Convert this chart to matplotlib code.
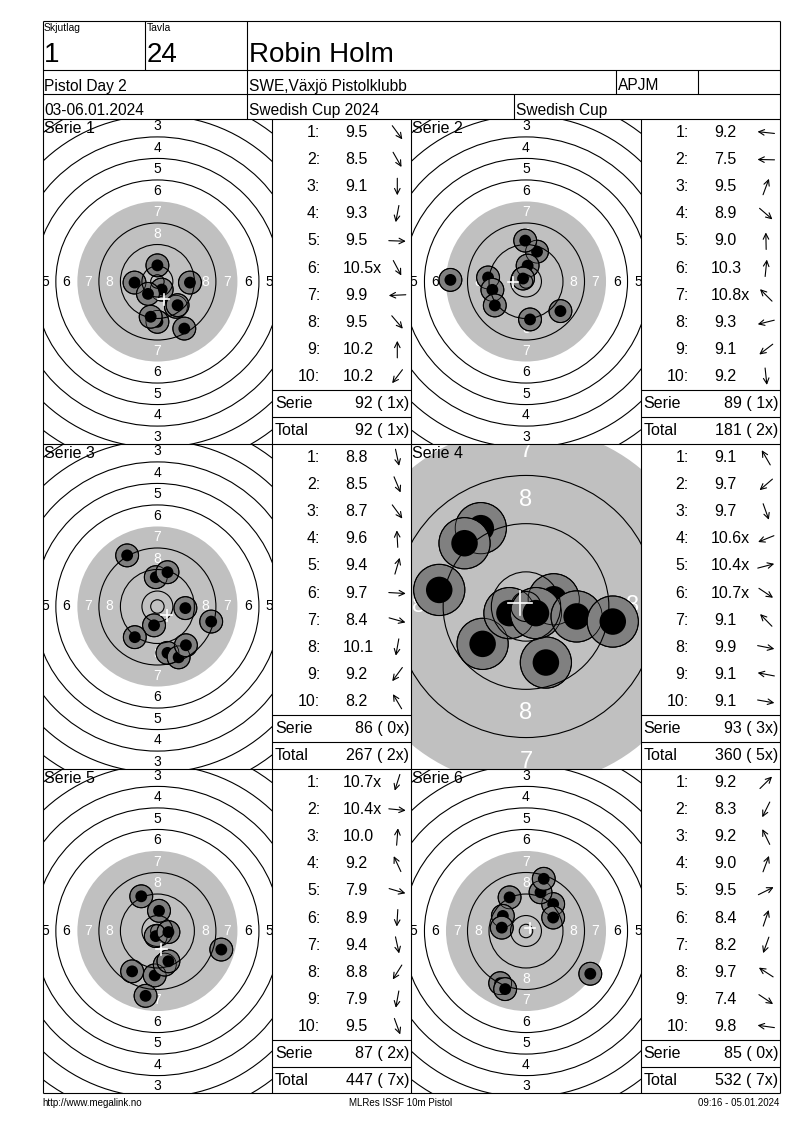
import numpy as np
import matplotlib.pyplot as plt
from matplotlib.patches import Circle

plt.rcParams['font.family'] = ['Liberation Sans', 'DejaVu Sans']

W, H = 800, 1130

# header / footer texts
squad = "1"
lane = "24"
shooter = "Robin Holm"
event = "Pistol Day 2"
club = "SWE,Växjö Pistolklubb"
shooter_class = "APJM"
dates = "03-06.01.2024"
competition = "Swedish Cup 2024"
cup = "Swedish Cup"
footer_left = "http://www.megalink.no"
footer_mid = "MLRes ISSF 10m Pistol"
footer_right = "09:16 - 05.01.2024"

series_names = ["Serie 1", "Serie 2", "Serie 3", "Serie 4", "Serie 5", "Serie 6"]

# shot values as printed
scores_1 = ["9.5", "8.5", "9.1", "9.3", "9.5", "10.5x", "9.9", "9.5", "10.2", "10.2"]
scores_2 = ["9.2", "7.5", "9.5", "8.9", "9.0", "10.3", "10.8x", "9.3", "9.1", "9.2"]
scores_3 = ["8.8", "8.5", "8.7", "9.6", "9.4", "9.7", "8.4", "10.1", "9.2", "8.2"]
scores_4 = ["9.1", "9.7", "9.7", "10.6x", "10.4x", "10.7x", "9.1", "9.9", "9.1", "9.1"]
scores_5 = ["10.7x", "10.4x", "10.0", "9.2", "7.9", "8.9", "9.4", "8.8", "7.9", "9.5"]
scores_6 = ["9.2", "8.3", "9.2", "9.0", "9.5", "8.4", "8.2", "9.7", "7.4", "9.8"]

# shot positions on the target in mm (x right, y up)
x_1 = [6.9, 10.0, 0.0, -2.5, 12.1, 1.6, -8.5, 7.5, 0.0, -3.5]
y_1 = [-9.4, -17.5, -15.0, -13.1, -0.4, -3.0, -0.4, -8.8, 6.0, -4.6]
x_2 = [-14.1, -28.1, 4.1, 12.8, -0.3, 0.6, -1.1, -12.5, -11.6, 1.5]
y_2 = [1.5, 0.6, 11.1, -11.0, 15.2, 5.9, 1.1, -3.1, -8.9, -14.1]
x_3 = [3.75, 7.9, 10.6, -0.6, 3.75, 10.4, 20.0, -1.25, -8.4, -11.25]
y_3 = [-17.25, -18.9, -14.4, 10.9, 12.75, -0.6, -5.6, -7.0, -11.4, 19.0]
x_4 = [-7.5, -7.2, 3.3, -2.75, 4.6, 1.65, -10.2, 8.4, -14.4, 14.4]
y_4 = [13.0, -6.2, -9.3, -1.1, 1.2, -1.1, 10.5, -1.65, 2.75, -2.5]
x_5 = [-0.6, 4.1, 0.6, -6.0, 23.75, -1.0, 2.75, -9.4, -4.4, 4.1]
y_5 = [-1.9, -0.4, 7.5, 12.9, -6.9, -16.5, -12.5, -15.0, -24.1, -11.25]
x_6 = [10.1, -9.6, -6.1, 5.4, 10.1, 6.6, -7.75, -8.6, 23.9, -9.0]
y_6 = [10.0, -19.4, 12.5, 14.4, 5.0, 19.4, -21.6, 5.6, -15.9, 1.25]

serie_sums = ["92 ( 1x)", "89 ( 1x)", "86 ( 0x)", "93 ( 3x)", "87 ( 2x)", "85 ( 0x)"]
running_sums = ["92 ( 1x)", "181 ( 2x)", "267 ( 2x)", "360 ( 5x)", "447 ( 7x)", "532 ( 7x)"]
view_zoom = [1, 1, 1, 2.24, 1, 1]

all_scores = [scores_1, scores_2, scores_3, scores_4, scores_5, scores_6]
all_x = [x_1, x_2, x_3, x_4, x_5, x_6]
all_y = [y_1, y_2, y_3, y_4, y_5, y_6]

# ISSF 10m air pistol target (mm)
def ring_r(n):
    return 5.75 + 8 * (10 - n)

INNER_TEN = 2.5
BLACK_R = ring_r(7)

# page layout in pixels
L, R = 42.5, 779.5
TOP, BOT = 21, 1093
ROWS = [119, 444, 769, 1093]
COLS = [(42.5, 272.3, 411), (411, 641, 779.5)]
PX_PER_MM = 2.69
LGRAY = '#c0c0c0'
DGRAY = '#808080'
LW = 0.8

fig = plt.figure(figsize=(W / 100, H / 100), dpi=100)


def px_rect(x0, y0, x1, y1):
    return [x0 / W, 1 - y1 / H, (x1 - x0) / W, (y1 - y0) / H]


def draw_target(k, x0, y0, x1, y1):
    z = view_zoom[k]
    scale = PX_PER_MM * z
    tax = fig.add_axes(px_rect(x0, y0, x1, y1))
    hw = (x1 - x0) / 2 / scale
    hh = (y1 - y0) / 2 / scale
    tax.set_xlim(-hw, hw)
    tax.set_ylim(-hh, hh)
    tax.axis('off')

    tax.add_patch(Circle((0, 0), BLACK_R, fc=LGRAY, ec='none', zorder=1))

    fs = 10 if z == 1 else 17
    for n in range(1, 9):
        r = ring_r(n) - 4
        col = 'white' if n >= 7 else 'black'
        for px, py in [(0, r), (0, -r), (r, 0), (-r, 0)]:
            # skip numbers that fall completely outside the panel
            if abs(px) > hw + 2 or abs(py) > hh + 2:
                continue
            t = tax.text(px, py, str(n), ha='center', va='center', fontsize=fs,
                         color=col, zorder=2, clip_on=True)
            t.set_clip_box(tax.bbox)

    xs, ys = all_x[k], all_y[k]
    for i in range(len(xs)):
        tax.add_patch(Circle((xs[i], ys[i]), 4.25, fc=DGRAY, ec='black', lw=LW, zorder=3 + i * 0.01))
        tax.add_patch(Circle((xs[i], ys[i]), 2.2, fc='black', ec='none', zorder=3.005 + i * 0.01))
    for i in range(len(xs)):
        tax.add_patch(Circle((xs[i], ys[i]), 4.25, fill=False, ec='black', lw=0.6, zorder=4))

    for n in list(range(1, 7)) + [8, 9, 10]:
        tax.add_patch(Circle((0, 0), ring_r(n), fill=False, ec='black', lw=LW, zorder=4))
    tax.add_patch(Circle((0, 0), INNER_TEN, fill=False, ec='black', lw=LW, zorder=4))

    mx, my = np.mean(xs), np.mean(ys)
    tax.plot([mx - 2, mx + 2], [my, my], color='white', lw=1.2, zorder=5)
    tax.plot([mx, mx], [my - 2, my + 2], color='white', lw=1.2, zorder=5)


# targets first, frame and texts on top
for k in range(6):
    row, col = k // 2, k % 2
    tx0, tx1, _ = COLS[col]
    draw_target(k, tx0, ROWS[row], tx1, ROWS[row + 1])

ax = fig.add_axes([0, 0, 1, 1])
ax.set_xlim(0, W)
ax.set_ylim(H, 0)
ax.axis('off')

# header grid
ax.hlines([TOP, 69.5, 94, 119, 444, 769, BOT], L, R, color='black', lw=LW)
ax.vlines([L, R], TOP, BOT, color='black', lw=LW)
ax.vlines([144.5, 246.5], TOP, 69.5, color='black', lw=LW)
ax.vlines([246.5, 616, 698], 69.5, 94, color='black', lw=LW)
ax.vlines([246.5, 513.5], 94, 119, color='black', lw=LW)
ax.vlines([272.3, 411, 641], 119, BOT, color='black', lw=LW)

ax.text(44, 31, "Skjutlag", fontsize=7.5, va='baseline')
ax.text(147, 31, "Tavla", fontsize=7.5, va='baseline')
ax.text(44, 62, squad, fontsize=20, va='baseline')
ax.text(147, 62, lane, fontsize=20, va='baseline')
ax.text(249, 62, shooter, fontsize=20, va='baseline')
ax.text(44, 90.5, event, fontsize=11.2, va='baseline')
ax.text(249, 90.5, club, fontsize=11.2, va='baseline')
ax.text(618, 90.5, shooter_class, fontsize=11.2, va='baseline')
ax.text(44, 115, dates, fontsize=11.2, va='baseline')
ax.text(249, 115, competition, fontsize=11.2, va='baseline')
ax.text(516, 115, cup, fontsize=11.2, va='baseline')

ROW_H = 27.1
for k in range(6):
    row, col = k // 2, k % 2
    tx0, tb0, tb1 = COLS[col]
    y0 = ROWS[row]
    ax.text(tx0 + 1, y0 + 14, series_names[k], fontsize=11.5, va='baseline')

    ax.hlines([y0 + 271, y0 + 298], tb0, tb1, color='black', lw=LW)
    xs, ys = all_x[k], all_y[k]
    for i, s in enumerate(all_scores[k]):
        yc = y0 + ROW_H * (i + 0.5)
        ax.text(tb0 + 48, yc, f"{i + 1}:", fontsize=11.5, ha='right', va='center')
        off = 70 if float(s.rstrip('x')) >= 10 else 73
        ax.text(tb0 + off, yc, s, fontsize=11.5, ha='left', va='center')
        ang = np.arctan2(ys[i], xs[i])
        acx, acy, half = tb0 + 125, yc, 8.5
        head = (acx + half * np.cos(ang), acy - half * np.sin(ang))
        tail = (acx - half * np.cos(ang), acy + half * np.sin(ang))
        ax.annotate('', xy=head, xytext=tail,
                    arrowprops=dict(arrowstyle='->', lw=0.8, color='black',
                                    shrinkA=0, shrinkB=0, mutation_scale=10))
    ax.text(tb0 + 2.5, y0 + 284.5, "Serie", fontsize=11.5, va='center')
    ax.text(tb1 - 1.5, y0 + 284.5, serie_sums[k], fontsize=11.5, ha='right', va='center')
    ax.text(tb0 + 2.5, y0 + 311.5, "Total", fontsize=11.5, va='center')
    ax.text(tb1 - 1.5, y0 + 311.5, running_sums[k], fontsize=11.5, ha='right', va='center')

ax.text(L, 1103, footer_left, fontsize=7, va='center')
ax.text(401, 1103, footer_mid, fontsize=7, ha='center', va='center')
ax.text(R, 1103, footer_right, fontsize=7, ha='right', va='center')

fig.savefig('out.png', dpi=100, facecolor='white')
